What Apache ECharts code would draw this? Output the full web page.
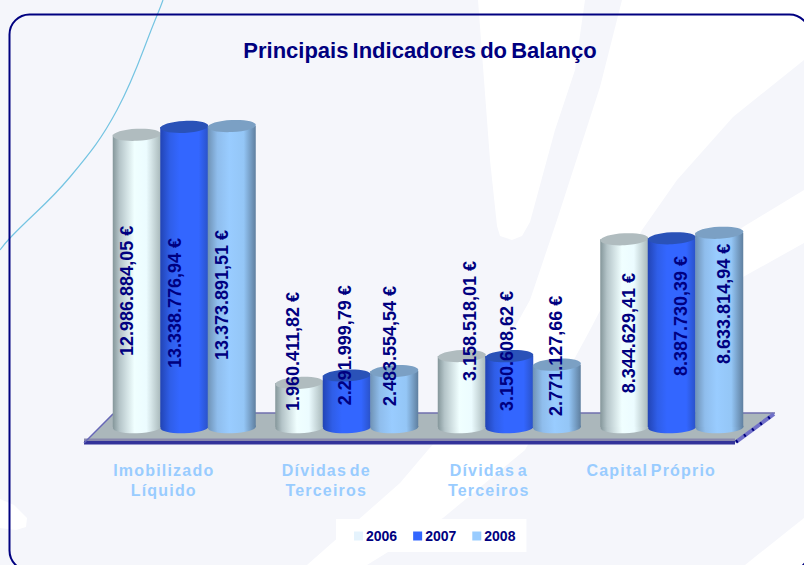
<!DOCTYPE html>
<html><head><meta charset="utf-8">
<style>
html,body{margin:0;padding:0;background:#f5f6fb}
#c{width:804px;height:565px}
text[fill="#99ccff"]{letter-spacing:1.2px;word-spacing:-3px}
text[fill="#00007f"]{word-spacing:-2px}
</style>
<script src="https://cdn.jsdelivr.net/npm/echarts@6/dist/echarts.min.js"></script>
</head><body><div id="c"></div>
<script>
const categories = ['Imobilizado\nLíquido', 'Dívidas de\nTerceiros', 'Dívidas a\nTerceiros', 'Capital Próprio'];
const years = ['2006', '2007', '2008'];
const values2006 = [12986884.05, 1960411.82, 3158518.01, 8344629.41];
const values2007 = [13338776.94, 2291999.79, 3150608.62, 8387730.39];
const values2008 = [13373891.51, 2483554.54, 2771127.66, 8633814.94];
const allValues = [values2006, values2007, values2008];

const legendColors = ['#e5f3fd', '#3366ff', '#99ccff'];
const topColors = ['#b0bcbf', '#2a52b8', '#7ba0c4'];
const bodyStops = [
  [[0,'#84969a'],[0.14,'#b4c4c8'],[0.45,'#f0ffff'],[0.7,'#ecfcff'],[1,'#a8b8ba']],
  [[0,'#2244b4'],[0.2,'#2f5ee8'],[0.4,'#3366ff'],[0.8,'#3366ff'],[1,'#2a52c8']],
  [[0,'#6f92b5'],[0.2,'#8fbdec'],[0.45,'#99ccff'],[0.75,'#94c6f6'],[1,'#5f7f9f']]
];
const barOffsets = [-27, 20.5, 68];
const barWidth = 48;
const capRy = 6;
// hand placement of the value labels relative to the middle of each cylinder [dx, dy]
const labelNudges = [
  [[-9.75,10],[-6.25,-53.5],[8.25,-70.5],[4.75,0]],
  [[-9.25,26],[-1.75,-56],[-2.25,-40.6],[9.25,-16.6]],
  [[-9.75,18.5],[-4.25,-53],[-0.75,-40],[4.75,-26]]
];

function fmt(v){
  const [i,d] = v.toFixed(2).split('.');
  return i.replace(/\B(?=(\d{3})+$)/g,'.') + ',' + d + ' €';
}
function gradient(y){
  return {type:'linear',x:0,y:0,x2:1,y2:0,
    colorStops:bodyStops[y].map(s=>({offset:s[0],color:s[1]}))};
}
function cylinder(y){
  return function(params, api){
    const top = api.coord([api.value(0), api.value(1)]);
    const base = api.coord([api.value(0), 0]);
    const cx = top[0] + barOffsets[y], l = cx - barWidth/2;
    const fill = gradient(y);
    return {type:'group',children:[
      {type:'ellipse',shape:{cx:cx,cy:base[1],rx:barWidth/2,ry:capRy},
        originX:cx,originY:base[1],rotation:0.03,style:{fill:fill}},
      {type:'rect',shape:{x:l,y:top[1],width:barWidth,height:base[1]-top[1]},style:{fill:fill}},
      {type:'ellipse',shape:{cx:cx,cy:top[1],rx:barWidth/2,ry:capRy},
        originX:cx,originY:top[1],rotation:0.05,style:{fill:topColors[y]}}
    ]};
  };
}
function valueLabel(y){
  return function(params, api){
    const i = params.dataIndex;
    const top = api.coord([api.value(0), api.value(1)]);
    const base = api.coord([api.value(0), 0]);
    const n = labelNudges[y][i];
    return {type:'text',x:top[0]+barOffsets[y]+n[0],y:(top[1]+base[1])/2+n[1],rotation:Math.PI/2,
      style:{text:fmt(api.value(1)),fill:'#000080',font:'bold 18px "Liberation Sans"',
        textAlign:'center',textVerticalAlign:'middle'}};
  };
}
const series = [];
years.forEach((name,y)=>{
  series.push({name:name,type:'custom',z:2+y,coordinateSystem:'cartesian2d',
    itemStyle:{color:legendColors[y]},encode:{x:0,y:1},
    data:allValues[y].map((v,i)=>[i,v]),renderItem:cylinder(y),silent:true});
});
years.forEach((name,y)=>{
  series.push({name:name+' valores',type:'custom',z:10,coordinateSystem:'cartesian2d',encode:{x:0,y:1},
    data:allValues[y].map((v,i)=>[i,v]),renderItem:valueLabel(y),silent:true});
});

const white = '#ffffff';
const leaf = [[478,0],[484,80],[490,160],[497,226],[500,236],[512,240],[522,236],[530,222],[555,130],[575,70],[585,0]];
const bigSwoosh = [[622,0],[804,0],[804,60],[733,117],[677,180],[642,230],[590,330],[525,450],[443,518],[367,565],[307,565],[400,483],[428,450],[480,390],[530,300],[557,220],[600,87]];
const stripe = [[804,190],[743,227],[700,265],[640,370],[700,310],[743,277],[804,243]];
const corner = [[745,565],[804,518],[804,565]];
const blob = [[0,499],[14,505],[27,518],[26,527],[16,530],[0,528]];
const echo = [[163,0],[158,13],[117,110],[70,177],[10,238],[0,250]];

const chart = echarts.init(document.getElementById('c'),null,{renderer:'svg'});
chart.setOption({
  animation:false,
  backgroundColor:'#f5f6fb',
  title:{text:'Principais Indicadores do Balanço',left:415,top:34,textAlign:'center',
    textStyle:{color:'#00007f',fontFamily:'Liberation Sans',fontWeight:'bold',fontSize:22}},
  legend:{data:years,left:336,top:519,backgroundColor:'#ffffff',padding:[10,11,9,18],
    itemWidth:9,itemHeight:9,itemGap:16,icon:'rect',itemStyle:{borderWidth:0},
    textStyle:{color:'#000080',fontFamily:'Liberation Sans',fontWeight:'bold',fontSize:14,padding:[0,0,0,-2]}},
  grid:{left:82.5,width:650,top:112,height:315},
  xAxis:{type:'category',data:categories,axisLine:{show:false},axisTick:{show:false},
    axisLabel:{interval:0,margin:33,color:'#99ccff',fontFamily:'Liberation Sans',fontWeight:'bold',fontSize:16,lineHeight:20}},
  yAxis:{type:'value',show:false,min:0,max:14000000},
  tooltip:{show:false},
  graphic:{elements:[
    {type:'polygon',z:0,shape:{points:leaf},style:{fill:white}},
    {type:'polygon',z:0,shape:{points:bigSwoosh},style:{fill:white}},
    {type:'polygon',z:0,shape:{points:stripe},style:{fill:white}},
    {type:'polygon',z:0,shape:{points:corner},style:{fill:white}},
    {type:'polygon',z:0,shape:{points:blob},style:{fill:white}},
    {type:'polyline',z:0,shape:{points:echo,smooth:0.4},style:{fill:'none',stroke:'#74c4e2',lineWidth:1.2}},
    {type:'rect',z:1,shape:{x:9.5,y:14.5,width:800,height:556,r:20},style:{fill:'none',stroke:'#000080',lineWidth:2}},
    {type:'polygon',z:1,shape:{points:[[113,413],[775,413],[735,443],[84,443]]},style:{fill:'#abb7bb'}},
    {type:'line',z:1,shape:{x1:113,y1:413,x2:775,y2:413},style:{stroke:'#6f6fae',lineWidth:1.5}},
    {type:'rect',z:1,shape:{x:84,y:438.5,width:651,height:2.5},style:{fill:'#8888ad'}},
    {type:'rect',z:1,shape:{x:84,y:441,width:651,height:3.5},style:{fill:'#33339a'}},
    {type:'line',z:1,shape:{x1:84,y1:443,x2:113,y2:414},style:{stroke:'#6666b8',lineWidth:1.5}},
    {type:'line',z:1,shape:{x1:736,y1:442,x2:774,y2:414},style:{stroke:'#7070c8',lineWidth:4}},
    {type:'line',z:1,shape:{x1:736,y1:442,x2:774,y2:414},style:{stroke:'#000080',lineWidth:3,lineDash:[2,8]}}
  ]},
  series:series
});
</script></body></html>
